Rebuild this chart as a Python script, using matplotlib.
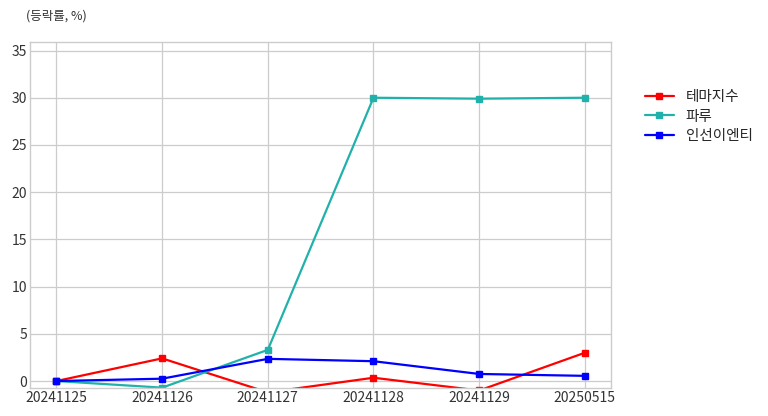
"""
등락률 비교 차트 (테마지수 / 파루 / 인선이엔티)
"""

import matplotlib
matplotlib.use('Agg')
import matplotlib.pyplot as plt

#---------------------------------------------------------------------------------------------------
# Data
#---------------------------------------------------------------------------------------------------

dates = ['20241125', '20241126', '20241127', '20241128', '20241129', '20250515']
theme_idx = [0.0, 2.4, -1.2, 0.35, -1.0, 3.0]
paru = [0.0, -0.7, 3.3, 30.0, 29.9, 30.0]
inseon = [0.0, 0.25, 2.35, 2.1, 0.75, 0.55]

series = {'테마지수': {'vals': theme_idx, 'color': 'red'},
          '파루': {'vals': paru, 'color': 'lightseagreen'},
          '인선이엔티': {'vals': inseon, 'color': 'blue'}}

#---------------------------------------------------------------------------------------------------
# Plot
#---------------------------------------------------------------------------------------------------

plt.style.use('seaborn-v0_8-whitegrid')
plt.rcParams['font.family'] = ['Noto Sans CJK KR', 'DejaVu Sans']
plt.rcParams['axes.unicode_minus'] = False

fig = plt.figure(figsize=(7.68, 4.16), dpi=100)
ax = fig.add_axes([0.039, 0.067, 0.757, 0.832])

for name, s in series.items():
    ax.plot(dates, s['vals'], linestyle='-', marker='s', markersize=4.5, lw=1.6,
            c=s['color'], label=name)

ax.set_ylim(-0.75, 35.9)
ax.set_yticks([0, 5, 10, 15, 20, 25, 30, 35])
ax.tick_params(labelsize=10, colors='#333333', pad=2)
for sp in ax.spines.values():
    sp.set_visible(True)
    sp.set_color('#cccccc')
ax.grid(True, color='#cccccc', lw=0.9)

fig.text(0.034, 0.962, '(등락률, %)', fontsize=9, color='#333333', ha='left', va='center')
ax.legend(loc='upper left', bbox_to_anchor=(1.035, 0.9), frameon=False, fontsize=10.5,
          handlelength=2.0, labelspacing=0.4)

plt.savefig('out.png', dpi=100)
